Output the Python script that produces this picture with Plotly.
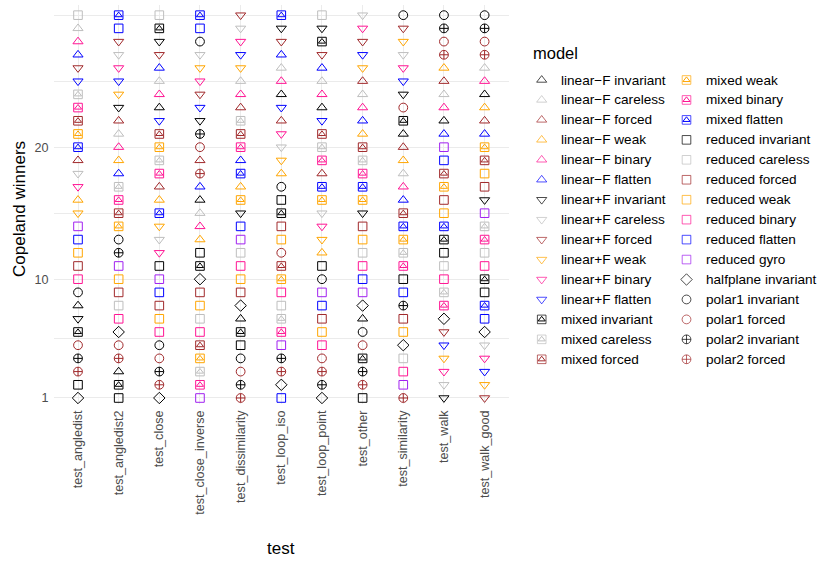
import plotly.graph_objects as go

# ---- data -----------------------------------------------------------------
tests = ["test_angledist", "test_angledist2", "test_close", "test_close_inverse",
         "test_dissimilarity", "test_loop_iso", "test_loop_point", "test_other",
         "test_similarity", "test_walk", "test_walk_good"]

y_ticks = [1, 10, 20]

# Copeland winners per model, one value per test (same order as `tests`)
linear_mF_invariant = [8, 3, 23, 16, 7, 24, 23, 7, 21, 22, 24]
linear_mF_careless = [29, 21, 25, 15, 25, 26, 25, 24, 18, 24, 26]
linear_mF_forced = [19, 22, 17, 19, 23, 22, 18, 25, 20, 25, 22]
linear_mF_weak = [16, 19, 16, 13, 17, 18, 12, 21, 19, 26, 23]
linear_mF_binary = [28, 20, 24, 14, 24, 25, 24, 23, 17, 23, 25]
linear_mF_flatten = [27, 18, 26, 17, 19, 27, 26, 22, 16, 21, 21]
linear_pF_invariant = [7, 23, 28, 22, 15, 29, 29, 15, 24, 1, 16]
linear_pF_careless = [18, 27, 13, 27, 29, 20, 15, 30, 27, 2, 5]
linear_pF_forced = [26, 28, 27, 24, 30, 28, 27, 28, 29, 6, 1]
linear_pF_weak = [15, 24, 14, 26, 26, 19, 13, 26, 28, 4, 2]
linear_pF_binary = [17, 26, 12, 25, 28, 21, 14, 29, 26, 3, 4]
linear_pF_flatten = [25, 25, 22, 23, 27, 23, 22, 27, 25, 5, 3]
mixed_invariant = [6, 2, 29, 11, 6, 15, 28, 4, 22, 13, 10]
mixed_careless = [24, 17, 19, 3, 22, 7, 20, 19, 12, 9, 14]
mixed_forced = [22, 15, 21, 5, 21, 11, 21, 20, 15, 18, 19]
mixed_weak = [21, 14, 20, 4, 16, 10, 16, 16, 13, 17, 20]
mixed_binary = [23, 16, 18, 2, 20, 6, 19, 18, 11, 8, 13]
mixed_flatten = [20, 30, 15, 30, 18, 30, 17, 17, 14, 14, 8]
reduced_invariant = [2, 1, 11, 12, 5, 16, 11, 1, 10, 12, 9]
reduced_careless = [30, 8, 30, 7, 12, 8, 30, 12, 4, 11, 12]
reduced_forced = [11, 9, 8, 9, 9, 14, 7, 14, 7, 16, 17]
reduced_weak = [12, 10, 7, 8, 10, 13, 6, 13, 6, 15, 18]
reduced_binary = [10, 7, 6, 6, 11, 9, 5, 11, 3, 10, 11]
reduced_flatten = [13, 29, 9, 29, 14, 1, 8, 10, 9, 19, 7]
reduced_gyro = [14, 11, 10, 1, 13, 5, 9, 9, 2, 20, 15]
halfplane_invariant = [1, 6, 1, 10, 8, 2, 1, 8, 5, 7, 6]
polar1_invariant = [9, 13, 5, 28, 4, 17, 10, 6, 30, 30, 30]
polar1_forced = [5, 5, 4, 20, 3, 12, 4, 5, 23, 28, 28]
polar2_invariant = [4, 12, 3, 21, 2, 4, 2, 3, 8, 29, 29]
polar2_forced = [3, 4, 2, 18, 1, 3, 3, 2, 1, 27, 27]

models = [
    ("linear\u2212F invariant", linear_mF_invariant),
    ("linear\u2212F careless", linear_mF_careless),
    ("linear\u2212F forced", linear_mF_forced),
    ("linear\u2212F weak", linear_mF_weak),
    ("linear\u2212F binary", linear_mF_binary),
    ("linear\u2212F flatten", linear_mF_flatten),
    ("linear+F invariant", linear_pF_invariant),
    ("linear+F careless", linear_pF_careless),
    ("linear+F forced", linear_pF_forced),
    ("linear+F weak", linear_pF_weak),
    ("linear+F binary", linear_pF_binary),
    ("linear+F flatten", linear_pF_flatten),
    ("mixed invariant", mixed_invariant),
    ("mixed careless", mixed_careless),
    ("mixed forced", mixed_forced),
    ("mixed weak", mixed_weak),
    ("mixed binary", mixed_binary),
    ("mixed flatten", mixed_flatten),
    ("reduced invariant", reduced_invariant),
    ("reduced careless", reduced_careless),
    ("reduced forced", reduced_forced),
    ("reduced weak", reduced_weak),
    ("reduced binary", reduced_binary),
    ("reduced flatten", reduced_flatten),
    ("reduced gyro", reduced_gyro),
    ("halfplane invariant", halfplane_invariant),
    ("polar1 invariant", polar1_invariant),
    ("polar1 forced", polar1_forced),
    ("polar2 invariant", polar2_invariant),
    ("polar2 forced", polar2_forced),
]

# ---- styling --------------------------------------------------------------
variant_colors = {
    "invariant": "#000000",
    "careless": "#BEBEBE",
    "forced": "#A0282A",
    "weak": "#FFA500",
    "binary": "#FF1493",
    "flatten": "#0000FF",
    "gyro": "#A020F0",
}
family_symbols = {
    "linear\u2212F": ("triangle-up-open", 8.8),
    "linear+F": ("triangle-down-open", 8.8),
    "mixed": ("square-open", 8.6),          # plus an inner triangle
    "reduced": ("square-open", 8.6),
    "halfplane": ("diamond-open", 8.8),
    "polar1": ("circle-open", 8.8),
    "polar2": ("circle-cross-open", 8.8),
}
INNER_TRI = 6.2  # size of the triangle drawn inside the "mixed" square

FONT = "Liberation Sans, Arial, Helvetica, sans-serif"
TICK_SIZE = 12.6
LEGEND_SIZE = 13.6
TITLE_SIZE = 16.5
AXIS_TITLE_SIZE = 17
W, H = 818, 563
# panel box in pixels
PL, PR, PT, PB = 53.6, 509.0, 5.0, 404.0


def style(name):
    family, variant = name.rsplit(" ", 1)
    symbol, size = family_symbols[family]
    return family, symbol, size, variant_colors[variant]


fig = go.Figure()

# ---- main panel -------------------------------------------------------------
for name, vals in models:
    family, symbol, size, color = style(name)
    fig.add_trace(go.Scatter(
        x=tests, y=vals, mode="markers", name=name, showlegend=False,
        marker=dict(symbol=symbol, size=size, color=color,
                    line=dict(color=color, width=1)),
        xaxis="x", yaxis="y",
    ))
    if family == "mixed":
        fig.add_trace(go.Scatter(
            x=tests, y=vals, mode="markers", name=name, showlegend=False,
            marker=dict(symbol="triangle-up-open", size=INNER_TRI, color=color,
                        line=dict(color=color, width=1)),
            xaxis="x", yaxis="y", hoverinfo="skip",
        ))

# ---- legend (drawn on its own pixel-scaled axes) ---------------------------
LEG_ROWS = 15
LEG_X0, LEG_DX = 541.7, 144.8
LEG_Y0, LEG_DY = 80.0, 19.95
TXT_DX = 19.0

leg_x, leg_y, leg_sym, leg_size, leg_col = [], [], [], [], []
tri_x, tri_y, tri_col = [], [], []
annotations = []
for i, (name, _) in enumerate(models):
    family, symbol, size, color = style(name)
    col, row = divmod(i, LEG_ROWS)
    px = LEG_X0 + col * LEG_DX
    py = LEG_Y0 + row * LEG_DY
    leg_x.append(px)
    leg_y.append(py)
    leg_sym.append(symbol)
    leg_size.append(size)
    leg_col.append(color)
    if family == "mixed":
        tri_x.append(px)
        tri_y.append(py)
        tri_col.append(color)
    annotations.append(dict(
        x=(px + TXT_DX) / W, y=1 - py / H, xref="paper", yref="paper",
        text=name, showarrow=False, xanchor="left", yanchor="middle",
        xshift=-1, borderpad=0,
        font=dict(family=FONT, size=LEGEND_SIZE, color="#000000"),
    ))

fig.add_trace(go.Scatter(
    x=leg_x, y=leg_y, mode="markers", showlegend=False, hoverinfo="skip",
    marker=dict(symbol=leg_sym, size=leg_size, color=leg_col,
                line=dict(color=leg_col, width=1)),
    xaxis="x2", yaxis="y2",
))
fig.add_trace(go.Scatter(
    x=tri_x, y=tri_y, mode="markers", showlegend=False, hoverinfo="skip",
    marker=dict(symbol="triangle-up-open", size=INNER_TRI, color=tri_col,
                line=dict(color=tri_col, width=1)),
    xaxis="x2", yaxis="y2",
))

annotations += [
    dict(x=532 / W, y=1 - 53 / H, xref="paper", yref="paper", text="model",
         showarrow=False, xanchor="left", yanchor="middle", borderpad=0,
         font=dict(family=FONT, size=TITLE_SIZE, color="#000000")),
    dict(x=(PL + PR) / 2 / W, y=1 - 548 / H, xref="paper", yref="paper",
         text="test", showarrow=False, xanchor="center", yanchor="middle",
         font=dict(family=FONT, size=AXIS_TITLE_SIZE, color="#000000")),
    dict(x=19 / W, y=1 - 209 / H, xref="paper", yref="paper",
         text="Copeland winners", showarrow=False, textangle=-90,
         xanchor="center", yanchor="middle",
         font=dict(family=FONT, size=AXIS_TITLE_SIZE, color="#000000")),
]

fig.update_layout(
    width=W, height=H,
    margin=dict(l=0, r=0, t=0, b=0),
    paper_bgcolor="white", plot_bgcolor="white",
    font=dict(family=FONT),
    showlegend=False,
    annotations=annotations,
    xaxis=dict(
        domain=[PL / W, PR / W], anchor="y",
        type="category", categoryorder="array", categoryarray=tests,
        range=[-0.6, len(tests) - 0.4],
        showgrid=True, gridcolor="#EBEBEB", gridwidth=1.3,
        zeroline=False, showline=False, ticks="",
        tickangle=-90, ticklabelstandoff=3,
        tickfont=dict(family=FONT, size=TICK_SIZE, color="#4D4D4D"),
    ),
    yaxis=dict(
        domain=[1 - PB / H, 1 - PT / H], anchor="x",
        range=[0.545, 30.77],
        tickmode="array", tickvals=y_ticks, ticktext=[str(v) for v in y_ticks],
        showgrid=True, gridcolor="#EBEBEB", gridwidth=1.3,
        minor=dict(tickmode="array", tickvals=[5.5, 15, 25, 30],
                   showgrid=True, gridcolor="#EBEBEB", gridwidth=0.7, ticks=""),
        zeroline=False, showline=False, ticks="", ticklabelstandoff=4,
        tickfont=dict(family=FONT, size=TICK_SIZE, color="#4D4D4D"),
    ),
    xaxis2=dict(domain=[520 / W, 1.0], anchor="y2", range=[520, W],
                visible=False, fixedrange=True),
    yaxis2=dict(domain=[0.0, 1.0], anchor="x2", range=[H, 0],
                visible=False, fixedrange=True),
)

fig.write_html("out.html")
